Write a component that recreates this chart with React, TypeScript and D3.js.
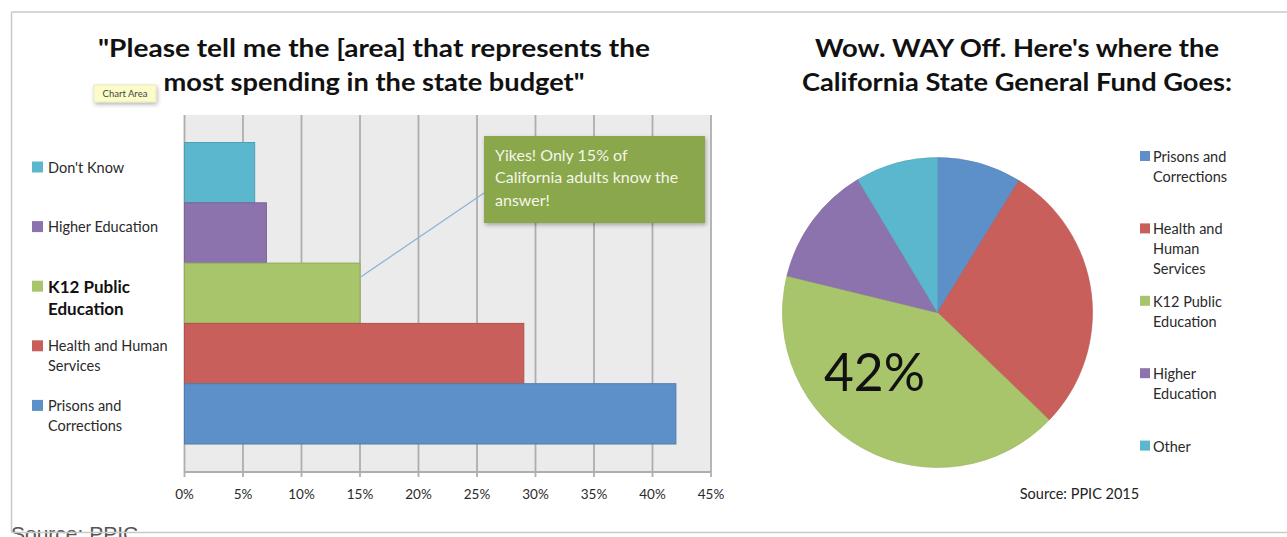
import React from "react";
import * as d3 from "d3";

// ---------- data ----------
const barCategories = [
  "Don't Know",
  "Higher Education",
  "K12 Public Education",
  "Health and Human Services",
  "Prisons and Corrections",
];
const barValues = [6, 7, 15, 29, 42];
const barColors = ["#5bb7cd", "#8c73ae", "#a8c56b", "#c95f5a", "#5d90c8"];
const barLegendLines = [
  ["Don't Know"],
  ["Higher Education"],
  ["K12 Public", "Education"],
  ["Health and Human", "Services"],
  ["Prisons and", "Corrections"],
];
const xTicks = [0, 5, 10, 15, 20, 25, 30, 35, 40, 45];

const pieCategories = [
  "Prisons and Corrections",
  "Health and Human Services",
  "K12 Public Education",
  "Higher Education",
  "Other",
];
const pieValues = [8.8, 28.4, 41.6, 12.6, 8.6];
const pieColors = ["#5d90c8", "#c95f5a", "#a8c56b", "#8c73ae", "#5bb7cd"];
const pieLegendLines = [
  ["Prisons and", "Corrections"],
  ["Health and", "Human", "Services"],
  ["K12 Public", "Education"],
  ["Higher", "Education"],
  ["Other"],
];

const leftTitle = ['"Please tell me the [area] that represents the', 'most spending in the state budget"'];
const rightTitle = ["Wow. WAY Off. Here's where the", "California State General Fund Goes:"];
const annotationLines = ["Yikes! Only 15% of", "California adults know the", "answer!"];

const FONT = "Lato, 'Noto Sans', sans-serif";

export default function App() {
  const W = 1287;
  const H = 537;

  // bar chart scales
  const plot = { left: 184.5, right: 711, top: 115, bottom: 472 };
  const x = d3.scaleLinear().domain([0, 45]).range([plot.left, plot.right]);
  const y = d3.scaleBand<string>().domain(barCategories).range([142.5, 444]).padding(0);

  // pie
  const cx = 937.5;
  const cy = 312.5;
  const R = 155;
  const pie = d3.pie<number>().sort(null).value((d) => d)(pieValues);
  const arc = d3.arc<d3.PieArcDatum<number>>().innerRadius(0).outerRadius(R);

  const k12Index = barCategories.indexOf("K12 Public Education");
  const k12End = x(barValues[k12Index]);
  const k12Mid = (y(barCategories[k12Index]) as number) + y.bandwidth() / 2 - 17;

  return (
    <div style={{ position: "fixed", left: 0, top: 0, width: W, height: H, background: "#fff" }}>
      <svg width={W} height={H} style={{ display: "block" }}>
        <defs>
          <filter id="shadow" x="-10%" y="-10%" width="130%" height="140%">
            <feDropShadow dx="1" dy="2" stdDeviation="2" floodColor="#000" floodOpacity="0.3" />
          </filter>
        </defs>

        {/* outer frame */}
        <line x1={11.5} y1={12} x2={W} y2={12} stroke="#c9c9c9" strokeWidth={1.5} />
        <line x1={11.5} y1={12} x2={11.5} y2={532.5} stroke="#c9c9c9" strokeWidth={1.5} />

        {/* left title */}
        {leftTitle.map((t, i) => (
          <text
            key={i}
            x={374}
            y={57 + i * 34}
            textAnchor="middle"
            fontFamily={FONT}
            fontWeight={700}
            fontSize={24}
            fill="#111"
            textLength={i === 0 ? 552 : 421}
            lengthAdjust="spacingAndGlyphs"
          >
            {t}
          </text>
        ))}

        {/* plot background */}
        <rect x={plot.left} y={plot.top} width={plot.right - plot.left} height={plot.bottom - plot.top} fill="#ebebeb" />
        {xTicks.map((t) => (
          <line key={t} x1={x(t)} x2={x(t)} y1={plot.top} y2={plot.bottom + 5} stroke="#aeaeae" strokeWidth={1.8} />
        ))}
        <line x1={plot.left} x2={plot.right} y1={plot.bottom} y2={plot.bottom} stroke="#aeaeae" strokeWidth={1.8} />

        {/* bars */}
        {barCategories.map((c, i) => (
          <rect
            key={c}
            x={x(0)}
            y={y(c)}
            width={x(barValues[i]) - x(0)}
            height={y.bandwidth()}
            fill={barColors[i]}
            stroke={d3.color(barColors[i])!.darker(0.4).toString()}
            strokeWidth={1}
          />
        ))}

        {/* tick labels */}
        {xTicks.map((t) => (
          <text key={t} x={x(t)} y={499} textAnchor="middle" fontFamily={FONT} fontSize={13.5} fill="#2a2a2a">
            {t}%
          </text>
        ))}

        {/* left legend */}
        {barLegendLines.map((lines, i) => {
          const y0 = 167.5 + i * 59.6;
          const bold = i === k12Index;
          return (
            <g key={i}>
              <rect x={32} y={y0 - 6} width={11} height={11} fill={barColors[i]} />
              {lines.map((l, j) => (
                <text
                  key={j}
                  x={48}
                  y={y0 + (bold ? 6 : 5) + j * (bold ? 22.5 : 19.7)}
                  fontFamily={FONT}
                  fontSize={bold ? 17 : 14.5}
                  fontWeight={bold ? 700 : 400}
                  fill={bold ? "#111" : "#2a2a2a"}
                >
                  {l}
                </text>
              ))}
            </g>
          );
        })}

        {/* callout line */}
        <line x1={k12End + 1} y1={k12Mid + 0.5} x2={484} y2={193} stroke="#8fb3dc" strokeWidth={1.3} />

        {/* annotation box */}
        <rect x={484} y={136} width={221} height={87} fill="#8aa74c" filter="url(#shadow)" />
        {annotationLines.map((l, i) => (
          <text key={i} x={495} y={160.5 + i * 22.5} fontFamily={FONT} fontSize={16} fill="#f3f6ea">
            {l}
          </text>
        ))}

        {/* Chart Area tooltip */}
        <rect x={94} y={85} width={62} height={17} fill="#fcfcc9" stroke="#e4e4b8" strokeWidth={0.8} filter="url(#shadow)" />
        <text x={125} y={97} textAnchor="middle" fontFamily={FONT} fontSize={9.5} fill="#444">
          Chart Area
        </text>

        {/* right title */}
        {rightTitle.map((t, i) => (
          <text
            key={i}
            x={1017}
            y={57 + i * 34}
            textAnchor="middle"
            fontFamily={FONT}
            fontWeight={700}
            fontSize={24}
            fill="#111"
            textLength={i === 0 ? 404 : 430}
            lengthAdjust="spacingAndGlyphs"
          >
            {t}
          </text>
        ))}

        {/* pie */}
        <g transform={`translate(${cx},${cy})`}>
          {pie.map((d, i) => (
            <path
              key={i}
              d={arc(d) as string}
              fill={pieColors[i]}
              stroke={d3.color(pieColors[i])!.darker(0.3).toString()}
              strokeWidth={0.6}
            />
          ))}
        </g>
        <text x={824} y={391} fontFamily={FONT} fontSize={53} fill="#111" textLength={101} lengthAdjust="spacingAndGlyphs">
          42%
        </text>

        {/* pie legend */}
        {pieLegendLines.map((lines, i) => {
          const y0 = 157 + i * 72.4;
          return (
            <g key={i}>
              <rect x={1140} y={y0 - 6} width={10} height={10} fill={pieColors[i]} />
              {lines.map((l, j) => (
                <text key={j} x={1153} y={y0 + 5 + j * 19.8} fontFamily={FONT} fontSize={14.5} fill="#2a2a2a">
                  {l}
                </text>
              ))}
            </g>
          );
        })}

        <text x={1079.5} y={499} textAnchor="middle" fontFamily={FONT} fontSize={14.5} fill="#222">
          Source: PPIC 2015
        </text>

        {/* bottom source */}
        <text x={11} y={541} fontFamily="'Liberation Sans', Arial, sans-serif" fontSize={21} fill="#555">
          Source: PPIC
        </text>
        <line x1={11.5} y1={532.5} x2={W} y2={532.5} stroke="#c9c9c9" strokeWidth={1.5} />
      </svg>
    </div>
  );
}
